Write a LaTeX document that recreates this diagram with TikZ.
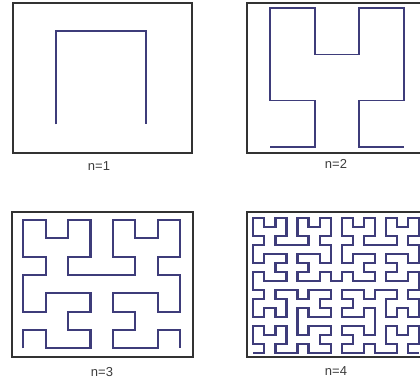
\documentclass[tikz,border=0pt]{standalone}
\usepackage{fontspec}
\setmainfont{Liberation Sans}
\definecolor{curvecol}{RGB}{62,60,122}
\definecolor{framecol}{RGB}{50,50,50}
\definecolor{textcol}{RGB}{60,60,60}
% Hilbert curve moves (y grows downward in the scope)
\def\hmU{ -- ++(0,-1)}
\def\hmD{ -- ++(0,1)}
\def\hmR{ -- ++(1,0)}
\def\hmL{ -- ++(-1,0)}
\def\hcA#1{\ifnum#1>0 \hcB{\the\numexpr#1-1\relax}\hmU\hcA{\the\numexpr#1-1\relax}\hmR\hcA{\the\numexpr#1-1\relax}\hmD\hcC{\the\numexpr#1-1\relax}\fi}
\def\hcB#1{\ifnum#1>0 \hcA{\the\numexpr#1-1\relax}\hmR\hcB{\the\numexpr#1-1\relax}\hmU\hcB{\the\numexpr#1-1\relax}\hmL\hcD{\the\numexpr#1-1\relax}\fi}
\def\hcC#1{\ifnum#1>0 \hcD{\the\numexpr#1-1\relax}\hmL\hcC{\the\numexpr#1-1\relax}\hmD\hcC{\the\numexpr#1-1\relax}\hmR\hcA{\the\numexpr#1-1\relax}\fi}
\def\hcD#1{\ifnum#1>0 \hcC{\the\numexpr#1-1\relax}\hmD\hcD{\the\numexpr#1-1\relax}\hmL\hcD{\the\numexpr#1-1\relax}\hmU\hcB{\the\numexpr#1-1\relax}\fi}
\newcommand\hilbdraw[6]{%
  \begin{scope}[shift={(#2pt,-#3pt)},x=#4pt,y=-#5pt]
    \edef\hilbtmp{\noexpand\draw[curve,line width=#6pt] (0,0)\hcA{#1};}\hilbtmp
  \end{scope}}
\tikzset{
  curve/.style={draw=curvecol,line join=miter,line cap=butt},
  frame/.style={draw=framecol,line width=1.9pt},
  lab/.style={text=textcol,font=\fontsize{13}{15}\selectfont,inner sep=0pt}
}
\begin{document}
\begin{tikzpicture}[x=1pt,y=-1pt]
\useasboundingbox (0,0) rectangle (420,382);
% frames
\draw[frame] (12.7,3.3) rectangle (191.7,153);
\draw[frame] (247.3,3.3) rectangle (425,152.7);
\draw[frame] (11.7,211.7) rectangle (192.7,356.7);
\draw[frame] (246.7,211.7) rectangle (425,356.7);
% curves
\hilbdraw{1}{56}{124.3}{90}{93.6}{1.7}
\hilbdraw{2}{270}{146.7}{44.67}{46.13}{1.7}
\hilbdraw{3}{23.3}{348.3}{22.39}{18.33}{2.2}
\hilbdraw{4}{253.3}{352.7}{11.05}{9.0}{2.2}
% labels
\node[lab] (l1) at (99,166) {n=1};
\node[lab] (l2) at (336,164) {n=2};
\node[lab] (l3) at (102,372.5) {n=3};
\node[lab] (l4) at (336,371) {n=4};
\end{tikzpicture}
\end{document}
